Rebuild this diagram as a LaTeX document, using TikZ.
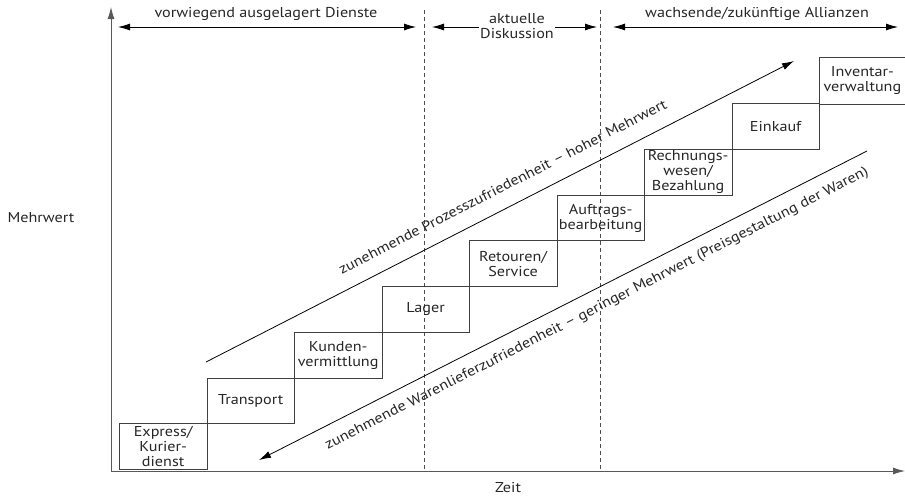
\documentclass[tikz,border=0pt]{standalone}
\usepackage{fontspec}
\setmainfont[FakeStretch=1.13]{PT Sans}
\usetikzlibrary{arrows.meta}
\begin{document}
\begin{tikzpicture}[x=1pt,y=-1pt,
  every node/.style={font=\fontsize{14.3}{15}\selectfont, text=black!85, inner sep=1pt},
  axis/.style={draw=black!65, line width=0.9pt},
  tip/.style={-{Latex[length=12pt,width=7pt]}},
  both/.style={{Latex[length=12pt,width=7pt]}-{Latex[length=12pt,width=7pt]}},
  divider/.style={draw=black!70, line width=0.8pt, dash pattern=on 4pt off 3pt},
  span/.style={draw=black, line width=0.8pt},
  trend/.style={draw=black, line width=0.8pt},
  stepbox/.style={draw=black!75, line width=0.8pt, minimum width=87.5pt,
    minimum height=45.75pt, inner sep=0pt, align=center, anchor=south west},
  steptext/.style={align=center, inner sep=0pt}
]
\useasboundingbox (0,0) rectangle (905,496);

% axes
\coordinate (O) at (111,471);
\coordinate (ytop) at (111,7);
\coordinate (xend) at (905,471);
\draw[axis,tip] (O) -- (ytop);
\draw[axis,tip] (O) -- (xend);
\node (ylab) at (41,218) {Mehrwert};
\node (xlab) at (508,488) {Zeit};

% phase dividers
\coordinate (d1t) at (424,10);
\coordinate (d1b) at (424,470);
\coordinate (d2t) at (600,10);
\coordinate (d2b) at (600,470);
\draw[divider] (d1t) -- (d1b);
\draw[divider] (d2t) -- (d2b);

% phase labels
\coordinate (p1l) at (118,27);
\coordinate (p1r) at (416,27);
\draw[span,both] (p1l) -- (p1r);
\node (ph1) at (266,14) {vorwiegend ausgelagert Dienste};

\coordinate (p2l) at (432,27);
\coordinate (p2r) at (597,27);
\node[align=center] (ph2) at (517,26) {aktuelle\\Diskussion};
\draw[span,tip] (ph2.west |- p2l) -- (p2l);
\draw[span,tip] (ph2.east |- p2r) -- (p2r);

\coordinate (p3l) at (613,27);
\coordinate (p3r) at (898,27);
\draw[span,both] (p3l) -- (p3r);
\node (ph3) at (757,14) {wachsende/zukünftige Allianzen};

% staircase of services
\node[stepbox] (s1) at (119,470) {};
\node[steptext] (t1) at (s1.center) {Express/\\Kurier-\\dienst};
\node[stepbox] (s2) at (206.5,424.25) {Transport};
\node[stepbox] (s3) at (294,378.5) {Kunden-\\vermittlung};
\node[stepbox] (s4) at (381.5,332.75) {Lager};
\node[stepbox] (s5) at (469,287) {Retouren/\\Service};
\node[stepbox] (s6) at (556.5,241.25) {Auftrags-\\bearbeitung};
\node[stepbox] (s7) at (644,195.5) {Rechnungs-\\wesen/\\Bezahlung};
\node[stepbox] (s8) at (731.5,149.75) {Einkauf};
\node[stepbox, draw=none, minimum width=86pt] (s9) at (819,104) {Inventar-\\verwaltung};
\draw[draw=black!75, line width=0.8pt] (s9.north east) -- (s9.north west) -- (s9.south west) -- (s9.south east);

% trends
\coordinate (u1) at (206,362);
\coordinate (u2) at (794,61);
\draw[trend,tip] (u1) -- (u2);
\node[rotate=27.1, anchor=base] (ut) at (505,191) {zunehmende Prozesszufriedenheit -- hoher Mehrwert};

\coordinate (l1) at (867,151);
\coordinate (l2) at (259,460);
\draw[trend,tip] (l1) -- (l2);
\node[rotate=26.9, anchor=base] (lt) at (598.5,312) {zunehmende Warenlieferzufriedenheit -- geringer Mehrwert (Preisgestaltung der Waren)};
\end{tikzpicture}
\end{document}
